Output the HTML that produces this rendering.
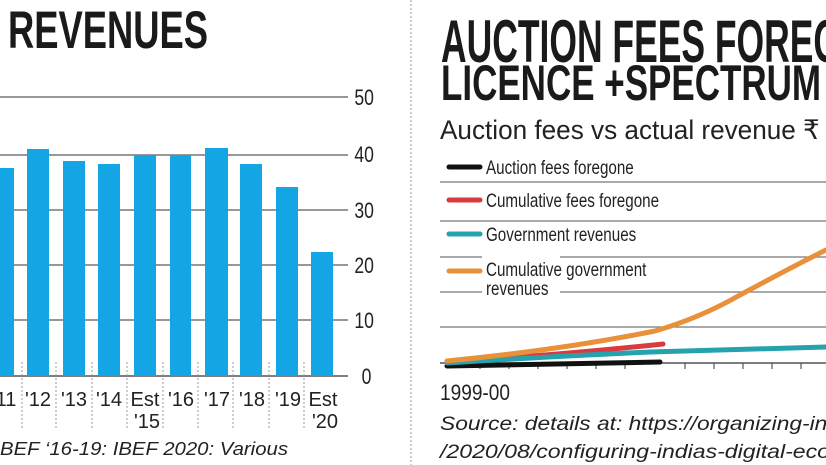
<!DOCTYPE html>
<html><head><meta charset="utf-8"><style>
html,body{margin:0;padding:0;background:#fff;}
body{width:826px;height:465px;overflow:hidden;position:relative;}
svg{position:absolute;left:0;top:0;}
</style></head><body>
<svg width="826" height="465" viewBox="0 0 826 465" xmlns="http://www.w3.org/2000/svg" font-family="Liberation Sans, sans-serif">
<rect width="826" height="465" fill="#fff"/>
<text x="8" y="48" font-size="53" font-weight="bold" fill="#1a1a1a" textLength="200" lengthAdjust="spacingAndGlyphs">REVENUES</text>
<g stroke="#777" stroke-width="1.5">
<line x1="0" y1="97" x2="348" y2="97"/>
<line x1="0" y1="155" x2="348" y2="155"/>
<line x1="0" y1="210" x2="348" y2="210"/>
<line x1="0" y1="265" x2="348" y2="265"/>
<line x1="0" y1="320" x2="348" y2="320"/>
<line x1="0" y1="376" x2="348" y2="376" stroke="#555"/>
</g>
<g fill="#222" font-size="22" transform="scale(0.8 1)">
<text x="443" y="105">50</text><text x="443" y="162">40</text><text x="443" y="218">30</text>
<text x="443" y="273">20</text><text x="443" y="328">10</text><text x="452" y="384">0</text>
</g>
<g fill="#14a6e4">
<rect x="0" y="168" width="14" height="208"/>
<rect x="27" y="149" width="22" height="227"/>
<rect x="63" y="161" width="22" height="215"/>
<rect x="98" y="164" width="22" height="212"/>
<rect x="134" y="155" width="22" height="221"/>
<rect x="170" y="155" width="21" height="221"/>
<rect x="205" y="148" width="23" height="228"/>
<rect x="240" y="164" width="22" height="212"/>
<rect x="276" y="187" width="22" height="189"/>
<rect x="311" y="252" width="22" height="124"/>
</g>
<g stroke="#999" stroke-width="1" stroke-dasharray="2,2">
<line x1="22" y1="362" x2="22" y2="430"/><line x1="56" y1="362" x2="56" y2="430"/>
<line x1="92" y1="362" x2="92" y2="430"/><line x1="127" y1="362" x2="127" y2="430"/>
<line x1="163" y1="362" x2="163" y2="430"/><line x1="198" y1="362" x2="198" y2="430"/>
<line x1="233" y1="362" x2="233" y2="430"/><line x1="269" y1="362" x2="269" y2="430"/>
<line x1="304" y1="362" x2="304" y2="430"/>
</g>
<g fill="#222" font-size="20" text-anchor="middle">
<text x="6" y="406">11</text><text x="38" y="406">'12</text><text x="74" y="406">'13</text>
<text x="109" y="406">'14</text><text x="145" y="406">Est</text><text x="147" y="428">'15</text>
<text x="181" y="406">'16</text><text x="217" y="406">'17</text><text x="252" y="406">'18</text>
<text x="288" y="406">'19</text><text x="323" y="406">Est</text><text x="325" y="428">'20</text>
</g>
<text x="0" y="455" font-size="18" font-style="italic" fill="#222" textLength="288" lengthAdjust="spacingAndGlyphs">BEF ‘16-19: IBEF 2020: Various</text>
<line x1="411" y1="0" x2="411" y2="465" stroke="#999" stroke-dasharray="2,2"/>
<g font-weight="bold" fill="#1a1a1a">
<text x="441" y="62" font-size="60" textLength="400" lengthAdjust="spacingAndGlyphs">AUCTION FEES FOREG</text>
<text x="441" y="100" font-size="50" textLength="380" lengthAdjust="spacingAndGlyphs">LICENCE +SPECTRUM</text>
</g>
<text x="440" y="139" font-size="27" fill="#222" textLength="400" lengthAdjust="spacingAndGlyphs">Auction fees vs actual revenue ₹ c</text>
<g stroke="#777" stroke-width="1.2">
<line x1="440" y1="182" x2="826" y2="182"/>
<line x1="440" y1="221" x2="826" y2="221"/>
<line x1="440" y1="257" x2="826" y2="257"/>
<line x1="440" y1="292" x2="826" y2="292"/>
<line x1="440" y1="327" x2="826" y2="327"/>
<line x1="440" y1="363" x2="826" y2="363" stroke="#555" stroke-width="1.5"/>
</g>
<g stroke="#555" stroke-width="1.2">
<line x1="480" y1="363" x2="480" y2="369"/><line x1="509" y1="363" x2="509" y2="369"/>
<line x1="538" y1="363" x2="538" y2="369"/><line x1="567" y1="363" x2="567" y2="369"/>
<line x1="596" y1="363" x2="596" y2="369"/><line x1="625" y1="363" x2="625" y2="369"/>
<line x1="685" y1="363" x2="685" y2="369"/><line x1="714" y1="363" x2="714" y2="369"/>
<line x1="743" y1="363" x2="743" y2="369"/><line x1="772" y1="363" x2="772" y2="369"/>
<line x1="801" y1="363" x2="801" y2="369"/>
</g>
<rect x="482" y="256" width="78" height="40" fill="#fff"/>
<g stroke-width="5" stroke-linecap="round">
<line x1="449" y1="167" x2="480" y2="167" stroke="#111"/>
<line x1="449" y1="200" x2="480" y2="200" stroke="#d83a3f"/>
<line x1="449" y1="234" x2="480" y2="234" stroke="#25a3ad"/>
<line x1="449" y1="271" x2="480" y2="271" stroke="#e8913a"/>
</g>
<g font-size="19" fill="#222" transform="translate(486 0) scale(0.8 1)">
<text x="0" y="174">Auction fees foregone</text>
<text x="0" y="207">Cumulative fees foregone</text>
<text x="0" y="241">Government revenues</text>
<text x="0" y="276">Cumulative government</text>
<text x="0" y="295">revenues</text>
</g>
<g fill="none" stroke-width="5" stroke-linecap="round">
<path d="M447 366 L660 362" stroke="#111"/>
<path d="M447 362 Q560 355 663 344" stroke="#d83a3f"/>
<path d="M447 363 Q560 356 650 352 L826 347" stroke="#25a3ad"/>
<path d="M447 361 Q560 350 655 331 Q700 318 740 295 Q790 268 826 250" stroke="#e8913a"/>
</g>
<text x="440" y="400" font-size="22" fill="#222" textLength="70" lengthAdjust="spacingAndGlyphs">1999-00</text>
<g font-size="19" font-style="italic" fill="#222">
<text x="440" y="430" textLength="400" lengthAdjust="spacingAndGlyphs">Source: details at: https://organizing-ind</text>
<text x="440" y="458" textLength="390" lengthAdjust="spacingAndGlyphs">/2020/08/configuring-indias-digital-eco</text>
</g>
</svg>
</body></html>
